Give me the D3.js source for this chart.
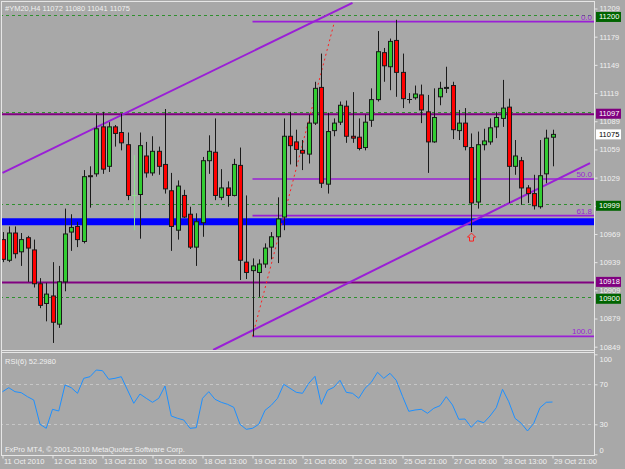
<!DOCTYPE html>
<html>
<head>
<meta charset="utf-8">
<title>YM20 H4</title>
<script src="https://cdnjs.cloudflare.com/ajax/libs/d3/7.8.5/d3.min.js"></script>
<style>
  body { margin: 0; background: #a8a8a8; }
  svg { display: block; }
  text { font-family: "Liberation Sans", Arial, sans-serif; font-size: 7.5px; fill: #f0f0f0; }
</style>
</head>
<body>
<div id="chart"></div>
<script>

// H4 bars, oldest first
var opens  = [10963,10941,10970,10950,10965,10952,10916,10895,10903,10873,10918,10971,10977,10961,11031,11033,11083,11041,11083,11077,
              11064,11011,11011,11052,11034,11057,11043,11015,10973,11010,10990,10955,10981,11047,11056,11008,11018,11010,11042,10939,
              10930,10928,10937,10955,10966,10987,11073,11067,11058,11054,11087,11125,11022,11079,11088,11105,11073,11072,11061,11090,
              11112,11162,11147,11175,11141,11113,11114,11117,11099,11067,11115,11124,11127,11079,11087,11061,11003,11064,11067,11083,
              11092,11104,11041,11047,11018,11012,10998,11033,11072];
var highs  = [10971,10977,10977,10970,10967,10963,10922,10917,10939,10935,10996,10990,10982,11037,11041,11096,11099,11088,11085,11097,
              11077,11053,11077,11067,11073,11062,11102,11034,11026,11016,10998,10991,11051,11074,11092,11038,11025,11049,11061,11010,
              10943,10942,10959,10971,11008,11092,11099,11080,11069,11096,11131,11161,11098,11092,11110,11111,11120,11092,11096,11124,
              11185,11167,11177,11197,11161,11119,11127,11128,11117,11124,11131,11147,11131,11101,11103,11076,11078,11081,11092,11099,
              11133,11113,11069,11051,11021,11032,11069,11080,11080];
var lows   = [10939,10939,10943,10935,10918,10912,10890,10876,10853,10869,10908,10951,10955,10959,10997,11030,11033,11035,11062,11058,
              11005,10973,10964,11029,11031,11032,11012,10951,10963,10986,10953,10935,10966,11033,11005,11005,10998,11009,10920,10921,
              10860,10902,10933,10942,10938,10973,11043,11041,11037,11044,11085,11018,11012,11073,11085,11066,11066,11058,11058,11083,
              11110,11131,11122,11115,11103,11108,11112,11087,11034,11066,11106,11119,11070,11069,11058,10971,10996,11058,11064,11071,
              11083,11002,11032,11000,11002,10995,10996,11023,11041];
var closes = [10942,10970,10948,10963,10954,10916,10893,10905,10875,10918,10969,10976,10963,11030,11030,11081,11038,11083,11076,11066,
              11010,11011,11063,11034,11057,11041,11017,10977,11020,10987,10955,10982,11047,11057,11010,11018,11010,11043,10941,10928,
              10935,10937,10954,10966,10985,11073,11063,11059,11055,11087,11124,11023,11078,11087,11106,11073,11071,11060,11088,11112,
              11163,11148,11174,11141,11113,11113,11118,11101,11067,11093,11124,11125,11080,11087,11062,11002,11064,11068,11082,11093,
              11103,11041,11052,11018,11012,10999,11031,11071,11075];

// RSI(6)
var rsi = [62.6,66.6,62.6,61.6,57.6,54.3,30,26,45,43.3,69.3,66.6,61,76,77.6,84.3,83.6,75,76,77.6,
           64.3,51,60.3,56,52,56,68.3,38.3,36,34.3,26,26.6,56,62.6,55,52,50,47,30,25,
           26,30,44,49,56,70,66,62,61,71,78,50,64,67,74,62,61,56,66,72,
           82,76,81,74,58,43,44.3,45,41,46,48.6,57.6,49.3,35,35.3,27,33.6,31.6,38.3,46.6,
           65,52.6,36,31,23.3,31,46.6,52,52.3];

var faintBars = [21];

var priceTicks = [11209,11179,11149,11119,11089,11059,11029,10999,10969,10939,10909,10879,10849];
var rsiTicks = [100,70,30,0];
var rsiLevels = [70,30];
var xTickIdx = [0,8,16,24,32,40,48,56,64,72,80,88];
var xLabels = ["11 Oct 2010","12 Oct 13:00","13 Oct 21:00","15 Oct 05:00","18 Oct 13:00","19 Oct 21:00",
               "21 Oct 05:00","22 Oct 13:00","25 Oct 21:00","27 Oct 05:00","28 Oct 13:00","29 Oct 21:00"];

var blueLevel = 10982;
var purpleLevels = [11097,10918];
var greenLevels = [11200,11097,10999,10900];
var fibPrices = [11195,11027.5,10988.5,10860];
var fibLabels = ["0.0","50.0","61.8","100.0"];
var fibStart = 40;
var upperTrend = [[0,11034],[56,11215]];
var lowerTrend = [[33.7,10845.5],[94,11044.5]];
var fibDiag = [[40,10860],[53,11192]];
var arrowBar = 75;

var tagPrices = [11200,11097,11075,10999,10918,10900];
var tagKinds  = ["green","purple","bid","green","purple","green"];

var W = 625, H = 469;
var axisX = 594;

var svg = d3.select("#chart").append("svg").attr("width", W).attr("height", H);
svg.append("rect").attr("width", W).attr("height", H).attr("fill", "#a8a8a8");

var x = d3.scaleLinear().domain([0, 88]).range([2.5, 552.5]);
var y = d3.scaleLinear().domain([10849, 11209]).range([346.7, 8.5]);
var yr = d3.scaleLinear().domain([0, 100]).range([454.3, 354.3]);

var defs = svg.append("defs");
defs.append("clipPath").attr("id", "clipMain").append("rect")
  .attr("x", 2).attr("y", 2).attr("width", axisX - 2).attr("height", 348);
defs.append("clipPath").attr("id", "clipRsi").append("rect")
  .attr("x", 2).attr("y", 353).attr("width", axisX - 2).attr("height", 102);

var g = svg.append("g").attr("clip-path", "url(#clipMain)");

/* horizontal objects */
g.append("line").attr("x1", 0).attr("x2", axisX)
  .attr("y1", y(blueLevel)).attr("y2", y(blueLevel))
  .attr("stroke", "#0000ff").attr("stroke-width", 7);

g.selectAll(".pl").data(purpleLevels).enter().append("line")
  .attr("x1", 0).attr("x2", axisX)
  .attr("y1", function(d) { return y(d) + 0.5; }).attr("y2", function(d) { return y(d) + 0.5; })
  .attr("stroke", "#800080").attr("stroke-width", 2);

g.selectAll(".gl").data(greenLevels).enter().append("line")
  .attr("x1", 0).attr("x2", axisX)
  .attr("y1", function(d) { return Math.round(y(d) - 1.5) + 0.5; })
  .attr("y2", function(d) { return Math.round(y(d) - 1.5) + 0.5; })
  .attr("stroke", "#2f8f2f").attr("stroke-width", 1).attr("stroke-dasharray", "3,3");

g.selectAll(".fl").data(fibPrices).enter().append("line")
  .attr("x1", x(fibStart)).attr("x2", axisX)
  .attr("y1", function(d) { return y(d); }).attr("y2", function(d) { return y(d); })
  .attr("stroke", "#9a1fd6").attr("stroke-width", 1.6);

g.selectAll(".ft").data(fibPrices).enter().append("text")
  .attr("x", axisX - 2).attr("y", function(d) { return y(d) - 2; })
  .attr("text-anchor", "end").style("fill", "#9a1fd6").style("font-size", "8px")
  .text(function(d, i) { return fibLabels[i]; });

var seg = d3.line().x(function(d) { return x(d[0]); }).y(function(d) { return y(d[1]); });

g.append("path").attr("d", seg(fibDiag)).attr("fill", "none")
  .attr("stroke", "#ff2020").attr("stroke-width", 1).attr("stroke-dasharray", "2,3");

[upperTrend, lowerTrend].forEach(function(t) {
  g.append("path").attr("d", seg(t)).attr("fill", "none")
    .attr("stroke", "#9a1fd6").attr("stroke-width", 2);
});

/* candles */
var bars = d3.range(opens.length);
var cg = g.selectAll(".bar").data(bars).enter().append("g");

cg.append("line")
  .attr("x1", function(i) { return Math.round(x(i)) + 0.5; })
  .attr("x2", function(i) { return Math.round(x(i)) + 0.5; })
  .attr("y1", function(i) { return y(highs[i]); })
  .attr("y2", function(i) { return y(lows[i]); })
  .attr("stroke", function(i) { return faintBars.indexOf(i) >= 0 ? "#8fe08f" : "#1a1a1a"; })
  .attr("stroke-width", 1);

cg.filter(function(i) { return opens[i] !== closes[i]; }).append("rect")
  .attr("x", function(i) { return Math.round(x(i)) - 1.5; })
  .attr("width", 4)
  .attr("y", function(i) { return y(Math.max(opens[i], closes[i])); })
  .attr("height", function(i) { return Math.max(1, Math.abs(y(opens[i]) - y(closes[i]))); })
  .attr("fill", function(i) { return closes[i] > opens[i] ? "#32cd32" : "#ff0000"; })
  .attr("stroke", "#1a1a1a").attr("stroke-width", 1);

cg.filter(function(i) { return opens[i] === closes[i]; }).append("line")
  .attr("x1", function(i) { return Math.round(x(i)) - 2; })
  .attr("x2", function(i) { return Math.round(x(i)) + 3; })
  .attr("y1", function(i) { return Math.round(y(closes[i])) + 0.5; })
  .attr("y2", function(i) { return Math.round(y(closes[i])) + 0.5; })
  .attr("stroke", function(i) { return faintBars.indexOf(i) >= 0 ? "#8fe08f" : "#1a1a1a"; });

// up arrow under the swing low
var ax = Math.round(x(arrowBar)) + 0.5, ay = y(lows[arrowBar]) + 1;
g.append("path")
  .attr("d", "M" + ax + "," + ay + " l4,4 h-2 v4 h-4 v-4 h-2 z")
  .attr("fill", "none").attr("stroke", "#ff2020").attr("stroke-width", 1);

/* RSI window */
var rg = svg.append("g").attr("clip-path", "url(#clipRsi)");
rg.selectAll(".rl").data(rsiLevels).enter().append("line")
  .attr("x1", 0).attr("x2", axisX)
  .attr("y1", function(d) { return Math.round(yr(d)) + 0.5; })
  .attr("y2", function(d) { return Math.round(yr(d)) + 0.5; })
  .attr("stroke", "#c6c6c6").attr("stroke-dasharray", "3,3");

rg.append("path").datum(rsi)
  .attr("d", d3.line().x(function(d, i) { return x(i); }).y(function(d) { return yr(d); }))
  .attr("fill", "none").attr("stroke", "#1e90ff").attr("stroke-width", 1);

/* frames */
var frame = "#e6e6e6";
svg.append("line").attr("x1", 1.5).attr("x2", 1.5).attr("y1", 1).attr("y2", 455).attr("stroke", frame);
svg.append("line").attr("x1", 1).attr("x2", axisX).attr("y1", 1.5).attr("y2", 1.5).attr("stroke", frame);
svg.append("line").attr("x1", 1).attr("x2", axisX).attr("y1", 350.5).attr("y2", 350.5).attr("stroke", frame);
svg.append("line").attr("x1", 1).attr("x2", axisX).attr("y1", 352.5).attr("y2", 352.5).attr("stroke", frame);

/* axes */
function styleAxis(sel) {
  sel.select(".domain").remove();
  sel.selectAll(".tick line").attr("stroke", frame);
  sel.selectAll(".tick text").style("fill", "#f0f0f0").style("font-size", "7.5px")
    .style("font-family", "Liberation Sans, Arial, sans-serif");
}

var ay1 = svg.append("g").attr("transform", "translate(" + (axisX + 0.5) + ",0)")
  .call(d3.axisRight(y).tickValues(priceTicks).tickSize(3).tickPadding(2).tickFormat(d3.format("d")));
styleAxis(ay1);

var ay2 = svg.append("g").attr("transform", "translate(" + (axisX + 0.5) + ",0)")
  .call(d3.axisRight(yr).tickValues(rsiTicks).tickSize(3).tickPadding(2));
styleAxis(ay2);
ay2.selectAll(".tick text").attr("dy", function(d) { return d === 100 ? "0.9em" : d === 0 ? "-0.3em" : "0.32em"; });

var ax1 = svg.append("g").attr("transform", "translate(0,455.5)")
  .call(d3.axisBottom(x).tickValues(xTickIdx).tickSize(3)
    .tickFormat(function(d, i) { return xLabels[i]; }));
styleAxis(ax1);
ax1.selectAll(".tick text").attr("text-anchor", "start").attr("x", 1).attr("y", 3);

svg.append("line").attr("x1", axisX + 0.5).attr("x2", axisX + 0.5).attr("y1", 1).attr("y2", 456).attr("stroke", frame);
svg.append("line").attr("x1", 1).attr("x2", axisX).attr("y1", 455.5).attr("y2", 455.5).attr("stroke", frame);

/* price tags on the axis */
var tagFill = { green: "#006400", purple: "#800080", bid: "#ffffff" };
var tags = svg.selectAll(".tag").data(tagPrices).enter().append("g")
  .attr("transform", function(d) { return "translate(" + (axisX + 1) + "," + y(d) + ")"; });
tags.append("rect").attr("x", 1).attr("y", -5).attr("width", 25).attr("height", 10)
  .attr("fill", function(d, i) { return tagFill[tagKinds[i]]; });
tags.append("text").attr("x", 4).attr("dy", "0.33em")
  .style("fill", function(d, i) { return tagKinds[i] === "bid" ? "#000" : "#fff"; })
  .text(function(d) { return d; });

/* captions */
svg.append("text").attr("x", 5).attr("y", 11).text("#YM20,H4  11072 11080 11041 11075");
svg.append("text").attr("x", 5).attr("y", 364).text("RSI(6) 52.2980");
svg.append("text").attr("x", 5).attr("y", 452).text("FxPro MT4, \u00a9 2001-2010 MetaQuotes Software Corp.");

</script>
</body>
</html>
